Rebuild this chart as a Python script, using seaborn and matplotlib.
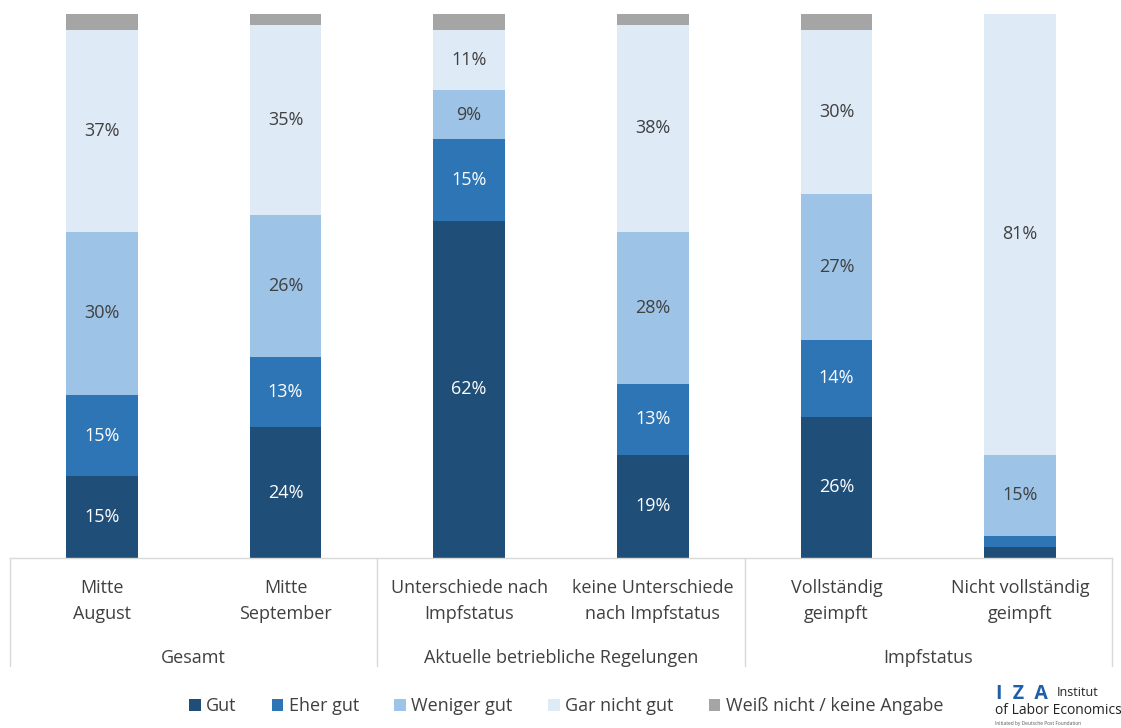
import numpy as np
import pandas as pd
import seaborn as sns
import matplotlib.pyplot as plt
from matplotlib.patches import Patch
from matplotlib.lines import Line2D
import matplotlib.transforms as mtransforms

# ==========================================
# DATA
# ==========================================
categories = ['Mitte\nAugust', 'Mitte\nSeptember', 'Unterschiede nach\nImpfstatus',
              'keine Unterschiede\nnach Impfstatus', 'Vollständig\ngeimpft', 'Nicht vollständig\ngeimpft']
groups = ['Gesamt', 'Aktuelle betriebliche Regelungen', 'Impfstatus']
group_sizes = [2, 2, 2]

series_names = ['Gut', 'Eher gut', 'Weniger gut', 'Gar nicht gut', 'Weiß nicht / keine Angabe']
gut = [15, 24, 62, 19, 26, 2]
eher_gut = [15, 13, 15, 13, 14, 2]
weniger_gut = [30, 26, 9, 28, 27, 15]
gar_nicht_gut = [37, 35, 11, 38, 30, 81]
weiss_nicht = [3, 2, 3, 2, 3, 0]

colors = ['#1F4E79', '#2E75B6', '#9DC3E6', '#DEEBF7', '#A5A5A5']
text_colors = ['white', 'white', '#404040', '#404040', None]

# ==========================================
# FIGURE
# ==========================================
sns.set_theme(style="white")
plt.rcParams['font.family'] = ['Open Sans', 'DejaVu Sans']

fig = plt.figure(figsize=(11.21, 7.28), dpi=100)
W, H = 1121, 728
ax = fig.add_axes([10 / W, (H - 558) / H, (1112 - 10) / W, (558 - 14) / H])

df = pd.DataFrame({'Kategorie': categories, 'Gut': gut, 'Eher gut': eher_gut,
                   'Weniger gut': weniger_gut, 'Gar nicht gut': gar_nicht_gut,
                   'Weiß nicht / keine Angabe': weiss_nicht})
values = df[series_names].to_numpy(dtype=float)
cum = values.cumsum(axis=1)

# stacked bars: draw cumulative totals from the top layer down
for i in range(len(series_names) - 1, -1, -1):
    layer = pd.DataFrame({'Kategorie': categories, 'Wert': cum[:, i]})
    sns.barplot(data=layer, x='Kategorie', y='Wert', color=colors[i], saturation=1,
                width=0.39, ax=ax, linewidth=0, order=categories)

# value labels
for j in range(len(categories)):
    for i, name in enumerate(series_names):
        v = values[j, i]
        if text_colors[i] is None or v < 5:
            continue
        y = cum[j, i] - v / 2
        ax.text(j, y, f'{v:.0f}%', ha='center', va='center', fontsize=13,
                color=text_colors[i])

ax.set_ylim(0, 100)
ax.set_xlim(-0.5, len(categories) - 0.5)
ax.set_xlabel('')
ax.set_ylabel('')
ax.set_yticks([])
ax.set_xticks([])
for s in ['top', 'right', 'left']:
    ax.spines[s].set_visible(False)
ax.spines['bottom'].set_color('#D9D9D9')
ax.spines['bottom'].set_linewidth(1)

# category axis (two levels)
trans = mtransforms.blended_transform_factory(ax.transData, ax.transAxes)
px = 1 / 544
for j, cat in enumerate(categories):
    ax.text(j, -43 * px, cat, transform=trans, ha='center', va='center',
            fontsize=13, color='#404040', linespacing=1.55)

start = 0
seps = [-0.5]
for g, n in zip(groups, group_sizes):
    center = start + (n - 1) / 2
    ax.text(center, -100 * px, g, transform=trans, ha='center', va='center',
            fontsize=13, color='#404040')
    start += n
    seps.append(start - 0.5)

for x in seps:
    ax.add_line(Line2D([x, x], [0, -108 * px], transform=trans, color='#D9D9D9',
                       linewidth=1, clip_on=False))

# legend
handles = [Patch(facecolor=c, edgecolor='none') for c in colors]
fig.legend(handles, series_names, loc='center', bbox_to_anchor=(566 / W, 22 / H),
           ncol=5, frameon=False, fontsize=13, handlelength=0.65, handleheight=0.65,
           handletextpad=0.3, columnspacing=1.95, labelcolor='#404040')

# IZA logo text
fig.text(996 / W, (H - 694) / H, 'I  Z  A', fontsize=14, fontweight='bold',
         color='#1F5FA8', ha='left', va='center')
fig.text(1057 / W, (H - 693) / H, 'Institut', fontsize=9, color='#222222',
         ha='left', va='center')
fig.text(995 / W, (H - 711) / H, 'of Labor Economics', fontsize=10, color='#222222',
         ha='left', va='center')
fig.text(995 / W, (H - 723) / H, 'Initiated by Deutsche Post Foundation', fontsize=3.5,
         color='#555555', ha='left', va='center')

plt.savefig('out.png', dpi=100)
plt.close()
